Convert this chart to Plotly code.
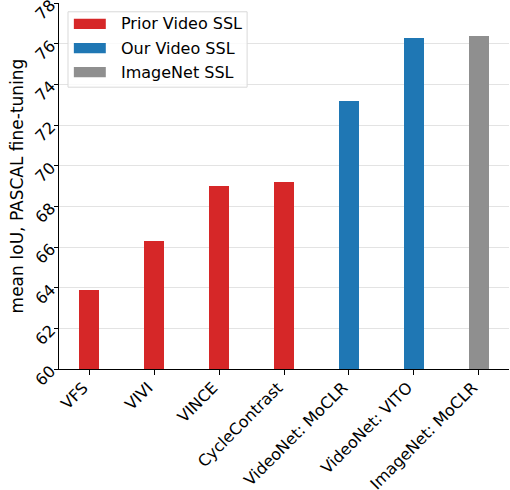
import plotly.graph_objects as go

# data
methods = ['VFS', 'VIVI', 'VINCE', 'CycleContrast',
           'VideoNet: MoCLR', 'VideoNet: VITO', 'ImageNet: MoCLR']
miou = [63.9, 66.3, 69.0, 69.2, 73.2, 76.3, 76.4]
groups = ['Prior Video SSL', 'Prior Video SSL', 'Prior Video SSL', 'Prior Video SSL',
          'Our Video SSL', 'Our Video SSL', 'ImageNet SSL']
group_names = ['Prior Video SSL', 'Our Video SSL', 'ImageNet SSL']
group_colors = {'Prior Video SSL': '#d62728', 'Our Video SSL': '#1f77b4',
                'ImageNet SSL': '#8f8f8f'}
yticks = [60, 62, 64, 66, 68, 70, 72, 74, 76, 78]

font = 'DejaVu Sans'
fig = go.Figure()

for g in group_names:
    xs = [m for m, gg in zip(methods, groups) if gg == g]
    ys = [v for v, gg in zip(miou, groups) if gg == g]
    fig.add_trace(go.Bar(
        x=xs, y=ys, name=g, width=0.31,
        marker=dict(color=group_colors[g], line=dict(width=0)),
        showlegend=False
    ))

# legend drawn by hand to get matplotlib-like wide handles
fig.add_shape(type='rect', xref='paper', yref='paper',
              x0=0.02, x1=0.418, y0=0.770, y1=0.976,
              line=dict(color='#d9d9d9', width=1), fillcolor='rgba(255,255,255,0.8)',
              layer='above')
for i, g in enumerate(group_names):
    yc = 0.943 - i * 0.066
    fig.add_shape(type='rect', xref='paper', yref='paper',
                  x0=0.033, x1=0.104, y0=yc - 0.014, y1=yc + 0.014,
                  line=dict(width=0), fillcolor=group_colors[g], layer='above')
    fig.add_annotation(xref='paper', yref='paper', x=0.133, y=yc,
                       text=g, showarrow=False, xanchor='left', yanchor='middle',
                       font=dict(family=font, size=16, color='black'))

fig.update_layout(
    width=510, height=490,
    margin=dict(l=59, r=1, t=3, b=121),
    plot_bgcolor='white', paper_bgcolor='white',
    barmode='overlay', bargap=0,
    font=dict(family=font, size=16, color='black'),
    showlegend=False
)
fig.update_xaxes(
    type='category', categoryorder='array', categoryarray=methods,
    range=[-0.466, 6.466], tickangle=-45, automargin=False,
    ticklabelshift=-6, ticklabelstandoff=-3,
    showline=True, linecolor='black', linewidth=1.2,
    ticks='outside', ticklen=5, tickcolor='black',
    showgrid=False, tickfont=dict(family=font, size=16)
)
fig.update_yaxes(
    range=[60, 78], tickvals=yticks, tickangle=-45, automargin=False,
    ticklabeloverflow='allow',
    showline=True, linecolor='black', linewidth=1.2,
    ticks='outside', ticklen=4, tickcolor='black',
    showgrid=True, gridcolor='#e3e3e3', gridwidth=1, zeroline=False,
    title=dict(text='mean IoU, PASCAL fine-tuning', font=dict(family=font, size=17), standoff=3),
    tickfont=dict(family=font, size=16)
)

fig.write_html('out.html', config={'displayModeBar': False},
               post_script="document.body.style.margin='0';")
